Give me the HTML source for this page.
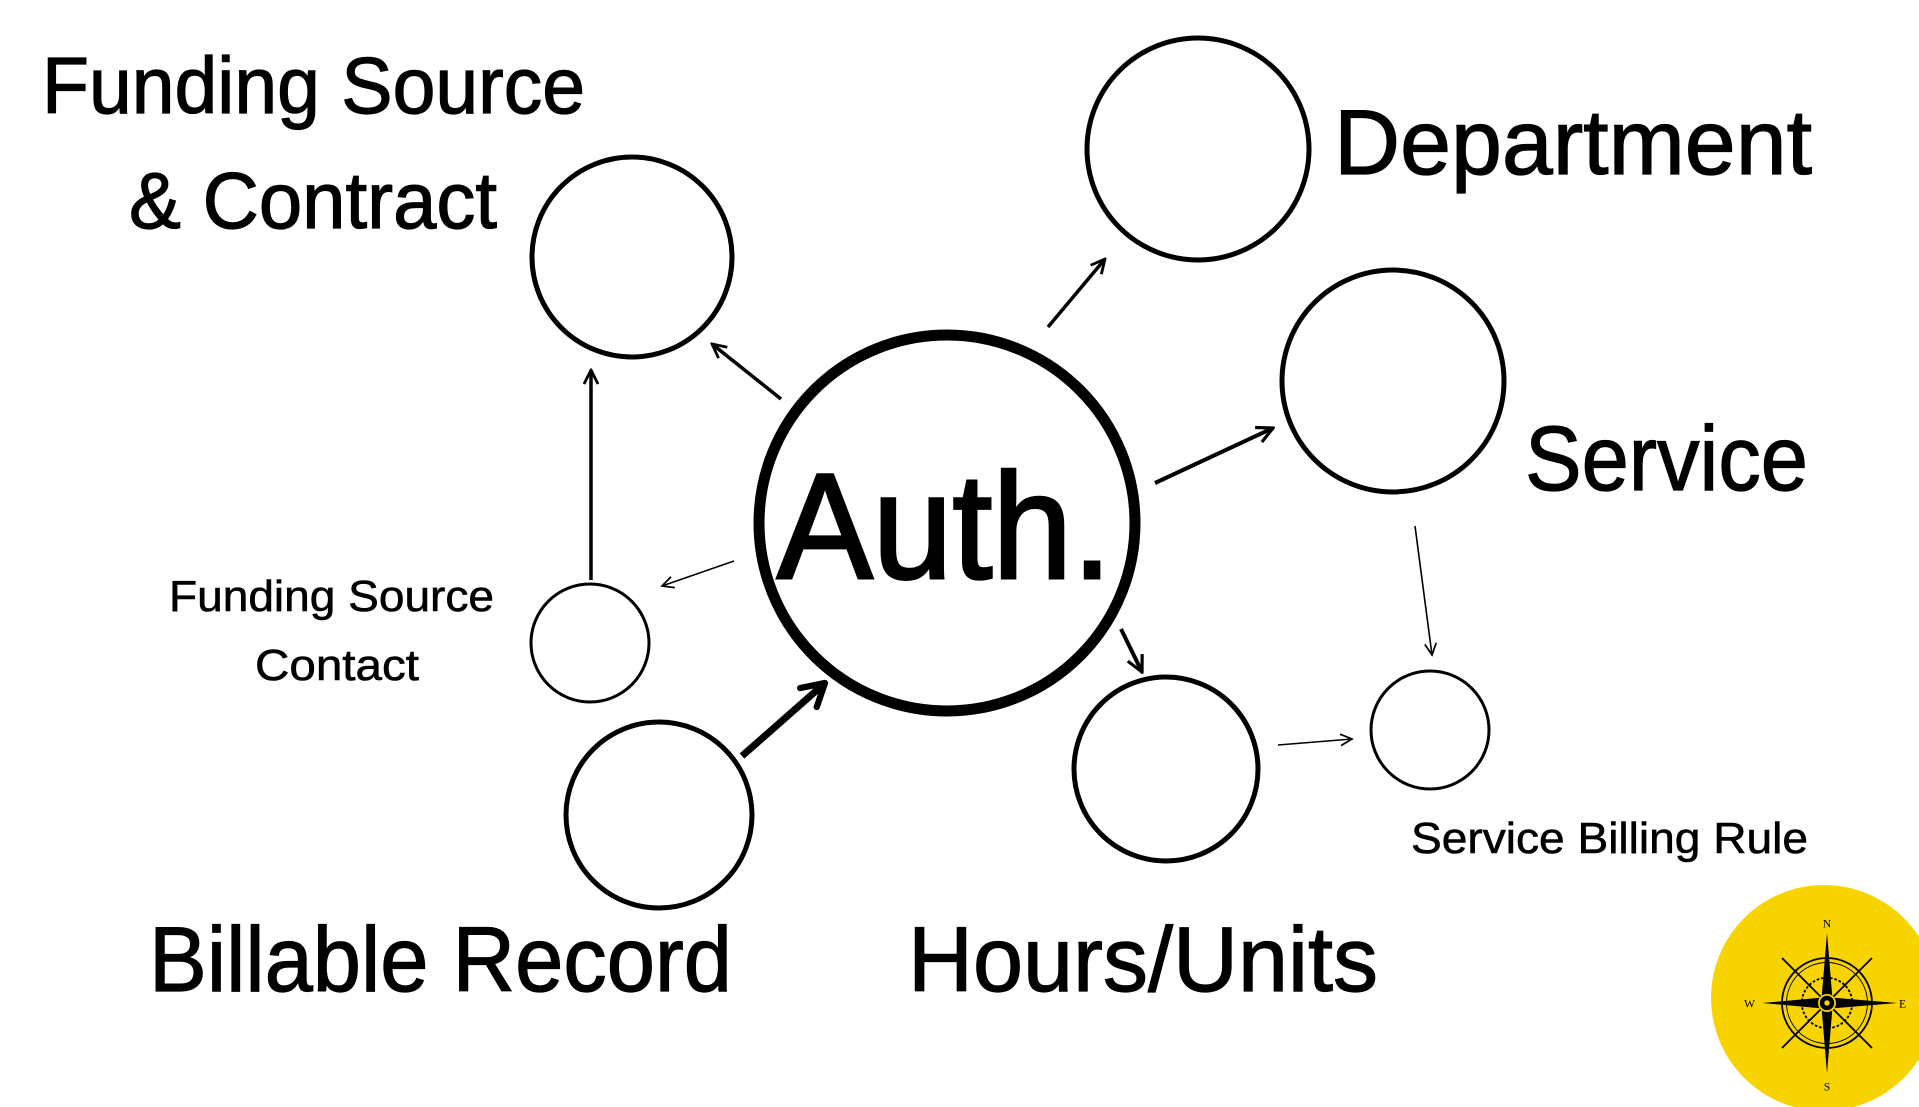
<!DOCTYPE html>
<html><head><meta charset="utf-8"><style>
html,body{margin:0;padding:0;background:#fff;}
svg{display:block;}
text{font-family:"Liberation Sans",sans-serif;fill:#000;}
.m{stroke:#000;stroke-width:1.2px;}
.s{stroke:#000;stroke-width:0.6px;}
</style></head><body>
<svg width="1919" height="1107" viewBox="0 0 1919 1107" xmlns="http://www.w3.org/2000/svg">
<defs>
<marker id="a" viewBox="0 0 10 10" refX="9" refY="5" markerWidth="5" markerHeight="5" orient="auto" markerUnits="strokeWidth">
<path d="M1,1 L9,5 L1,9" fill="none" stroke="#000" stroke-width="1.6"/></marker>
<marker id="t" viewBox="0 0 10 10" refX="9" refY="5" markerWidth="9" markerHeight="9" orient="auto" markerUnits="strokeWidth">
<path d="M1,1 L9,5 L1,9" fill="none" stroke="#000" stroke-width="1.2"/></marker>
<marker id="b" viewBox="0 0 10 10" refX="8" refY="5" markerWidth="4.5" markerHeight="4.5" orient="auto" markerUnits="strokeWidth">
<path d="M1,1 L8,5 L1,9" fill="none" stroke="#000" stroke-width="2" stroke-linecap="round" stroke-linejoin="round"/></marker>
</defs>
<g fill="none" stroke="#000">
<circle cx="947" cy="523" r="188" stroke-width="11"/>
<circle cx="632" cy="257" r="100" stroke-width="5"/>
<circle cx="1198" cy="149" r="111" stroke-width="5"/>
<circle cx="1393" cy="381" r="111" stroke-width="5"/>
<circle cx="590" cy="643" r="59" stroke-width="3"/>
<circle cx="659" cy="815" r="93" stroke-width="5"/>
<circle cx="1166" cy="769" r="92" stroke-width="5"/>
<circle cx="1430" cy="730" r="59" stroke-width="3"/>
</g>
<g stroke="#000" fill="none">
<line x1="781" y1="399" x2="712" y2="344" stroke-width="3.5" marker-end="url(#a)"/>
<line x1="1048" y1="327" x2="1105" y2="259" stroke-width="3.5" marker-end="url(#a)"/>
<line x1="1155" y1="483" x2="1273" y2="428" stroke-width="4" marker-end="url(#a)"/>
<line x1="1415" y1="526" x2="1432" y2="655" stroke-width="1.6" marker-end="url(#t)"/>
<line x1="734" y1="561" x2="662" y2="586" stroke-width="1.6" marker-end="url(#t)"/>
<line x1="591" y1="580" x2="591" y2="370" stroke-width="3.5" marker-end="url(#a)"/>
<line x1="742" y1="756" x2="825" y2="683" stroke-width="7" marker-end="url(#b)"/>
<line x1="1121" y1="629" x2="1142" y2="672" stroke-width="4" marker-end="url(#a)"/>
<line x1="1278" y1="745" x2="1352" y2="739" stroke-width="1.6" marker-end="url(#t)"/>
</g>
<text class="m" x="42" y="113" font-size="80" textLength="543" lengthAdjust="spacingAndGlyphs">Funding Source</text>
<text class="m" x="129" y="228" font-size="80" textLength="368" lengthAdjust="spacingAndGlyphs">&amp; Contract</text>
<text class="m" x="1334" y="174" font-size="92" textLength="478" lengthAdjust="spacingAndGlyphs">Department</text>
<text class="m" x="1525" y="490" font-size="92" textLength="283" lengthAdjust="spacingAndGlyphs">Service</text>
<text x="777" y="578" font-size="150" textLength="335" lengthAdjust="spacingAndGlyphs" style="stroke:#000;stroke-width:3px">Auth.</text>
<text class="s" x="169" y="611" font-size="44" textLength="325" lengthAdjust="spacingAndGlyphs">Funding Source</text>
<text class="s" x="255" y="680" font-size="44" textLength="164" lengthAdjust="spacingAndGlyphs">Contact</text>
<text class="m" x="149" y="991" font-size="92" textLength="583" lengthAdjust="spacingAndGlyphs">Billable Record</text>
<text class="m" x="908" y="991" font-size="92" textLength="470" lengthAdjust="spacingAndGlyphs">Hours/Units</text>
<text class="s" x="1411" y="853" font-size="44" textLength="397" lengthAdjust="spacingAndGlyphs">Service Billing Rule</text>
<circle cx="1824" cy="998" r="113" fill="#f7d400"/>
<g transform="translate(1827,1003) scale(0.9)">
<circle r="50" fill="none" stroke="#000" stroke-width="2"/>
<circle r="45" fill="none" stroke="#000" stroke-width="1"/>
<circle r="28" fill="none" stroke="#000" stroke-width="2" stroke-dasharray="3 2"/>
<g stroke="#000" stroke-width="2">
<line x1="-50" y1="-50" x2="50" y2="50"/><line x1="50" y1="-50" x2="-50" y2="50"/>
</g>
<polygon points="0,-78 6,-6 78,0 6,6 0,78 -6,6 -72,0 -6,-6" fill="#000"/>
<circle r="9" fill="#000" stroke="#f7d400" stroke-width="2"/>
<circle r="3" fill="#f7d400"/>
<text x="0" y="-84" font-size="13" text-anchor="middle" style="font-family:'Liberation Serif',serif">N</text>
<text x="0" y="97" font-size="13" text-anchor="middle" style="font-family:'Liberation Serif',serif">S</text>
<text x="-80" y="5" font-size="13" text-anchor="end" style="font-family:'Liberation Serif',serif">W</text>
<text x="80" y="5" font-size="13" style="font-family:'Liberation Serif',serif">E</text>
</g>
</svg>
</body></html>
